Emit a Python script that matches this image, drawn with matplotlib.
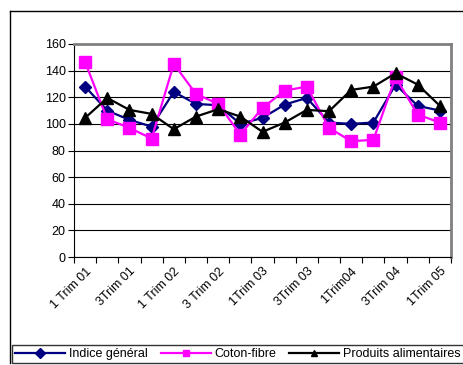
import matplotlib
matplotlib.use("Agg")
import matplotlib.pyplot as plt
from matplotlib.lines import Line2D
import numpy as np

plt.rcParams['font.family'] = ['Liberation Sans', 'DejaVu Sans']

quarters = ["1 Trim 01", "2 Trim 01", "3Trim 01", "4 Trim 01",
            "1 Trim 02", "2 Trim 02", "3 Trim 02", "4 Trim 02",
            "1Trim 03", "2Trim 03", "3Trim 03", "4Trim 03",
            "1Trim04", "2Trim04", "3Trim 04", "4Trim 04", "1Trim 05"]

indice_general = [128, 110, 103, 98, 124, 115, 114, 100, 104.5, 114.5, 119.5,
                  101, 100, 101, 129.5, 113.5, 110]
coton_fibre = [146.5, 103.5, 97, 89, 145, 122.5, 115, 92, 112, 125, 128,
               97, 87, 88, 135, 107, 101]
produits_alimentaires = [104.5, 119.5, 110.5, 107.5, 96, 105.5, 111, 105.5,
                         94, 101, 110.5, 109.5, 125.5, 128, 138, 129.5, 113.5]

W, H = 464, 365
fig = plt.figure(figsize=(W / 100, H / 100), dpi=100)

# outer chart frame
fig.add_artist(Line2D([10.5 / W, 10.5 / W], [1 - 11 / H, 2 / H],
                      transform=fig.transFigure, color="black", lw=1))
fig.add_artist(Line2D([10.5 / W, 1.0], [1 - 11 / H, 1 - 11 / H],
                      transform=fig.transFigure, color="black", lw=1))

ax = fig.add_axes([74 / W, 1 - 257 / H, (451 - 74) / W, (257 - 44) / H])

x = np.arange(len(quarters))
ax.plot(x, indice_general, color="#000080", lw=1.6, marker="D", ms=6.5,
        label="Indice général", zorder=3)
ax.plot(x, coton_fibre, color="#FF00FF", lw=1.6, marker="s", ms=9,
        label="Coton-fibre", zorder=4)
ax.plot(x, produits_alimentaires, color="black", lw=1.6, marker="^", ms=9,
        label="Produits alimentaires", zorder=5)

ax.set_xlim(-0.5, len(quarters) - 0.5)
ax.set_ylim(0, 160)
ax.set_yticks(np.arange(0, 161, 20))
ax.yaxis.grid(True, color="black", lw=0.8)
ax.set_axisbelow(True)

ax.set_xticks(np.arange(-0.5, len(quarters) + 0.5, 1))
ax.set_xticklabels([])
ax.set_xticks(x[::2], minor=True)
ax.set_xticklabels(quarters[::2], minor=True, rotation=45, ha="right",
                   rotation_mode="anchor", fontsize=9)
ax.tick_params(axis="x", which="minor", length=0, pad=6)
ax.tick_params(axis="x", which="major", length=4, direction="out", width=0.8)
ax.tick_params(axis="y", length=4, direction="out", width=0.8, labelsize=9, pad=2)

for side in ("top", "right"):
    ax.spines[side].set_color("#808080")
    ax.spines[side].set_linewidth(2)
for side in ("left", "bottom"):
    ax.spines[side].set_color("black")
    ax.spines[side].set_linewidth(0.8)

leg = fig.legend(loc="lower left", bbox_to_anchor=(12 / W, 2 / H, 1 - 12 / W, 21 / H),
                 mode="expand", ncol=3, fontsize=9, handlelength=4.0,
                 handletextpad=0.3, borderaxespad=0, frameon=True, fancybox=False,
                 borderpad=0.25, columnspacing=0.6)
leg.get_frame().set_edgecolor("black")
leg.get_frame().set_linewidth(1)
for h in leg.legend_handles:
    h.set_markersize(5)

fig.savefig("out.png", dpi=100)
